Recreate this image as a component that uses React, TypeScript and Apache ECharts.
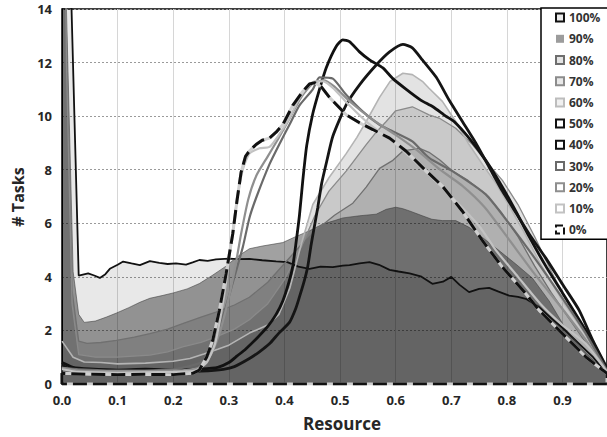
import { useEffect, useRef } from "react";
import * as echarts from "echarts";

const X_MAX = 0.98;
const Y_MAX = 14;
const FONT = "'Open Sans', 'DejaVu Sans', sans-serif";

const legendNames = ["100%", "90%", "80%", "70%", "60%", "50%", "40%", "30%", "20%", "10%", "0%"];

// Area series (filled, semi-transparent)
const share100: number[][] = [
  [0, 30], [0.012, 18], [0.03, 4.05], [0.047, 4.13], [0.058, 4.05], [0.068, 3.96], [0.078, 4.1], [0.086, 4.3],
  [0.1, 4.45], [0.11, 4.57], [0.125, 4.5], [0.14, 4.44], [0.158, 4.59], [0.175, 4.52], [0.19, 4.48], [0.205, 4.5],
  [0.223, 4.46], [0.235, 4.54], [0.247, 4.63], [0.262, 4.6], [0.277, 4.65], [0.3, 4.68], [0.318, 4.66], [0.337, 4.67],
  [0.36, 4.62], [0.385, 4.58], [0.405, 4.55], [0.425, 4.38], [0.445, 4.3], [0.465, 4.38], [0.487, 4.36], [0.505, 4.42],
  [0.517, 4.44], [0.535, 4.5], [0.553, 4.55], [0.57, 4.45], [0.589, 4.26], [0.605, 4.2], [0.625, 4.13], [0.645, 4.02],
  [0.666, 3.74], [0.685, 3.82], [0.7, 4.0], [0.715, 3.7], [0.732, 3.43], [0.75, 3.55], [0.768, 3.59], [0.785, 3.45],
  [0.804, 3.3], [0.82, 3.25], [0.834, 3.18], [0.858, 2.87], [0.88, 2.45], [0.9, 2.1], [0.93, 1.5], [0.955, 1.0], [0.98, 0.38],
];
const share90: number[][] = [
  [0, 30], [0.008, 14], [0.02, 4.2], [0.03, 2.6], [0.04, 2.3], [0.06, 2.35], [0.08, 2.5], [0.098, 2.65], [0.12, 2.85],
  [0.14, 3.05], [0.158, 3.2], [0.18, 3.3], [0.2, 3.4], [0.225, 3.55], [0.247, 3.75], [0.27, 4.05], [0.295, 4.4],
  [0.315, 4.75], [0.337, 5.05], [0.36, 5.15], [0.397, 5.28], [0.42, 5.5], [0.445, 5.72], [0.469, 5.97], [0.49, 6.1],
  [0.505, 6.2], [0.535, 6.28], [0.565, 6.34], [0.583, 6.52], [0.6, 6.6], [0.612, 6.55], [0.625, 6.46], [0.648, 6.28],
  [0.665, 6.15], [0.684, 6.1], [0.708, 6.1], [0.732, 5.85], [0.756, 5.47], [0.786, 4.98], [0.816, 4.48], [0.846, 3.95],
  [0.876, 3.1], [0.906, 2.05], [0.936, 1.3], [0.96, 0.8], [0.98, 0.45],
];
const share80: number[][] = [
  [0, 30], [0.008, 13], [0.018, 3.5], [0.03, 1.6], [0.045, 1.52], [0.07, 1.55], [0.098, 1.63], [0.13, 1.75], [0.158, 1.88],
  [0.19, 2.05], [0.217, 2.25], [0.25, 2.5], [0.277, 2.68], [0.31, 2.95], [0.337, 3.24], [0.37, 3.8], [0.4, 4.5],
  [0.43, 5.2], [0.46, 5.8], [0.49, 6.3], [0.523, 6.75], [0.547, 7.35], [0.571, 8.05], [0.595, 8.35], [0.613, 8.7],
  [0.643, 8.8], [0.66, 8.65], [0.68, 8.35], [0.702, 7.95], [0.73, 7.6], [0.762, 7.08], [0.79, 6.4], [0.82, 5.5],
  [0.85, 4.4], [0.88, 3.4], [0.91, 2.5], [0.94, 1.6], [0.98, 0.45],
];
const share70: number[][] = [
  [0, 30], [0.008, 12], [0.018, 3.0], [0.03, 1.1], [0.06, 1.0], [0.1, 1.0], [0.158, 1.08], [0.19, 1.2], [0.217, 1.39],
  [0.25, 1.55], [0.277, 1.76], [0.31, 2.05], [0.337, 2.4], [0.37, 3.0], [0.4, 3.9], [0.43, 5.1], [0.455, 6.3],
  [0.48, 7.2], [0.511, 7.95], [0.547, 8.94], [0.565, 9.4], [0.583, 9.8], [0.6, 10.2], [0.63, 10.35], [0.66, 10.05],
  [0.678, 9.93], [0.708, 9.55], [0.738, 8.94], [0.762, 8.32], [0.792, 7.6], [0.82, 6.7], [0.85, 5.5], [0.88, 4.2],
  [0.91, 3.0], [0.94, 1.9], [0.98, 0.45],
];
const share60: number[][] = [
  [0, 1.6], [0.02, 1.0], [0.04, 0.82], [0.07, 0.8], [0.1, 0.75], [0.15, 0.78], [0.2, 0.85], [0.23, 0.95], [0.255, 1.12],
  [0.28, 1.3], [0.3, 1.45], [0.337, 1.9], [0.37, 2.2], [0.39, 2.6], [0.41, 3.6], [0.43, 5.2], [0.451, 6.7], [0.48, 7.7],
  [0.511, 8.6], [0.53, 9.2], [0.547, 9.8], [0.571, 10.7], [0.59, 11.3], [0.613, 11.6], [0.63, 11.55], [0.648, 11.3],
  [0.66, 11.04], [0.684, 10.55], [0.708, 9.8], [0.732, 8.94], [0.756, 8.2], [0.78, 7.5], [0.8, 6.8], [0.83, 5.7],
  [0.86, 4.5], [0.9, 3.1], [0.93, 2.2], [0.955, 1.45], [0.98, 0.5],
];

// Line series
const share50: number[][] = [
  [0, 0.8], [0.02, 0.62], [0.05, 0.56], [0.1, 0.52], [0.15, 0.55], [0.2, 0.52], [0.25, 0.56], [0.28, 0.62], [0.3, 0.8],
  [0.315, 1.05], [0.33, 1.3], [0.35, 1.7], [0.37, 2.15], [0.385, 2.6], [0.397, 3.1], [0.408, 3.8], [0.415, 4.4],
  [0.421, 5.3], [0.427, 6.3], [0.433, 7.6], [0.44, 8.9], [0.451, 10.1], [0.463, 11.0], [0.475, 11.8], [0.493, 12.6],
  [0.505, 12.85], [0.517, 12.78], [0.535, 12.4], [0.553, 12.1], [0.577, 11.8], [0.595, 11.4], [0.619, 11.0],
  [0.645, 10.6], [0.667, 10.35], [0.69, 10.0], [0.705, 9.8], [0.732, 9.18], [0.762, 8.35], [0.792, 7.35], [0.816, 6.45],
  [0.84, 5.5], [0.87, 4.4], [0.9, 3.4], [0.93, 2.4], [0.955, 1.55], [0.98, 0.55],
];
const share40: number[][] = [
  [0, 0.7], [0.02, 0.5], [0.05, 0.45], [0.1, 0.42], [0.15, 0.45], [0.2, 0.44], [0.25, 0.48], [0.29, 0.55], [0.31, 0.65],
  [0.337, 0.95], [0.355, 1.2], [0.373, 1.5], [0.39, 1.9], [0.409, 2.3], [0.42, 2.8], [0.427, 3.25], [0.435, 3.8],
  [0.442, 4.4], [0.448, 5.2], [0.454, 5.9], [0.46, 6.6], [0.467, 7.5], [0.477, 8.4], [0.487, 9.25], [0.511, 10.42],
  [0.535, 11.17], [0.565, 11.91], [0.589, 12.4], [0.613, 12.68], [0.63, 12.55], [0.648, 12.1], [0.673, 11.45],
  [0.696, 10.6], [0.72, 9.8], [0.744, 9.0], [0.768, 8.1], [0.792, 7.2], [0.81, 6.6], [0.84, 5.6], [0.87, 4.7],
  [0.9, 3.72], [0.93, 2.75], [0.954, 1.65], [0.98, 0.6],
];
const share30: number[][] = [
  [0, 0.6], [0.03, 0.55], [0.1, 0.5], [0.2, 0.55], [0.25, 0.8], [0.265, 1.2], [0.28, 1.9], [0.295, 2.9], [0.31, 4.0],
  [0.325, 5.1], [0.337, 6.2], [0.35, 7.0], [0.373, 8.2], [0.392, 9.0], [0.409, 9.68], [0.427, 10.4], [0.451, 11.0],
  [0.463, 11.45], [0.487, 11.4], [0.511, 10.8], [0.541, 10.17], [0.571, 9.68], [0.595, 9.43], [0.63, 9.06],
  [0.66, 8.44], [0.702, 7.95], [0.762, 7.08], [0.8, 6.1], [0.85, 4.7], [0.9, 3.2], [0.94, 1.95], [0.98, 0.5],
];
const share20: number[][] = [
  [0, 0.6], [0.03, 0.5], [0.1, 0.48], [0.2, 0.5], [0.245, 0.6], [0.265, 1.0], [0.28, 1.7], [0.295, 2.8], [0.31, 4.2],
  [0.322, 5.6], [0.335, 6.9], [0.35, 7.8], [0.37, 8.5], [0.39, 9.2], [0.409, 9.9], [0.43, 10.7], [0.45, 11.2],
  [0.47, 11.35], [0.49, 11.1], [0.52, 10.5], [0.56, 9.85], [0.6, 9.3], [0.64, 8.7], [0.68, 8.0], [0.72, 7.4],
  [0.76, 6.6], [0.8, 5.5], [0.85, 4.1], [0.9, 2.8], [0.94, 1.7], [0.98, 0.45],
];
const share10: number[][] = [
  [0, 0.55], [0.03, 0.45], [0.1, 0.42], [0.2, 0.45], [0.24, 0.5], [0.26, 0.8], [0.275, 1.5], [0.285, 2.5], [0.295, 3.8],
  [0.305, 5.4], [0.315, 6.9], [0.325, 8.0], [0.337, 8.6], [0.355, 8.8], [0.373, 8.85], [0.39, 9.3], [0.409, 9.93],
  [0.425, 10.6], [0.439, 11.04], [0.455, 11.3], [0.47, 11.3], [0.49, 11.0], [0.51, 10.55], [0.55, 9.75], [0.6, 8.95],
  [0.65, 8.0], [0.7, 7.0], [0.75, 5.9], [0.78, 5.0], [0.82, 4.0], [0.86, 3.0], [0.9, 2.2], [0.942, 1.5], [0.98, 0.45],
];
const share0: number[][] = [
  [0, 0.4], [0.05, 0.36], [0.1, 0.35], [0.15, 0.36], [0.2, 0.35], [0.235, 0.4], [0.247, 0.52], [0.26, 1.0],
  [0.271, 1.63], [0.283, 2.75], [0.295, 4.11], [0.307, 5.6], [0.315, 6.9], [0.322, 7.9], [0.33, 8.5], [0.337, 8.7],
  [0.349, 8.94], [0.36, 9.1], [0.373, 9.18], [0.385, 9.4], [0.397, 9.68], [0.415, 10.4], [0.433, 10.92],
  [0.445, 11.2], [0.455, 11.25], [0.466, 11.1], [0.481, 10.7], [0.495, 10.4], [0.511, 10.05], [0.535, 9.75],
  [0.559, 9.5], [0.589, 9.18], [0.619, 8.69], [0.655, 7.95], [0.684, 7.39], [0.72, 6.45], [0.756, 5.35],
  [0.792, 4.36], [0.834, 3.37], [0.858, 2.75], [0.882, 2.25], [0.912, 1.63], [0.942, 1.01], [0.972, 0.52], [0.98, 0.4],
];

// Outline of the 0% profile, closed along the baseline
const outline0 = [[0, 0], ...share0, [X_MAX, 0], [0, 0]];

type AreaDef = { name: string; data: number[][]; fill: string; edge: string; edgeWidth: number };
const areaDefs: AreaDef[] = [
  { name: "100%", data: share100, fill: "rgba(0,0,0,0.09)", edge: "#111111", edgeWidth: 1.8 },
  { name: "90%", data: share90, fill: "rgba(0,0,0,0.37)", edge: "rgba(60,60,60,0.7)", edgeWidth: 0.8 },
  { name: "80%", data: share80, fill: "rgba(0,0,0,0.12)", edge: "#707070", edgeWidth: 1.3 },
  { name: "70%", data: share70, fill: "rgba(0,0,0,0.115)", edge: "#8a8a8a", edgeWidth: 1.3 },
  { name: "60%", data: share60, fill: "rgba(0,0,0,0.11)", edge: "#b4b4b4", edgeWidth: 1.6 },
];

type LineDef = { name: string; data: number[][]; color: string; width: number };
const lineDefs: LineDef[] = [
  { name: "50%", data: share50, color: "#111111", width: 2.8 },
  { name: "40%", data: share40, color: "#151515", width: 2.8 },
  { name: "30%", data: share30, color: "#6a6a6a", width: 2.2 },
  { name: "20%", data: share20, color: "#8f8f8f", width: 2.2 },
  { name: "10%", data: share10, color: "#c2c2c2", width: 2.2 },
];

const legendStyles: Record<string, any> = {
  "100%": { color: "#ececec", borderColor: "#111", borderWidth: 2 },
  "90%": { color: "#9c9c9c", borderColor: "#9c9c9c", borderWidth: 0 },
  "80%": { color: "#e4e4e4", borderColor: "#6e6e6e", borderWidth: 2 },
  "70%": { color: "#e8e8e8", borderColor: "#8c8c8c", borderWidth: 2 },
  "60%": { color: "#f0f0f0", borderColor: "#bdbdbd", borderWidth: 2 },
  "50%": { color: "#ffffff", borderColor: "#111", borderWidth: 2 },
  "40%": { color: "#ffffff", borderColor: "#111", borderWidth: 2 },
  "30%": { color: "#ffffff", borderColor: "#6a6a6a", borderWidth: 2 },
  "20%": { color: "#ffffff", borderColor: "#8f8f8f", borderWidth: 2 },
  "10%": { color: "#ffffff", borderColor: "#c2c2c2", borderWidth: 2 },
  "0%": { color: "#ffffff", borderColor: "#111", borderWidth: 2, borderType: [7, 3] },
};

export default function App() {
  const ref = useRef<HTMLDivElement>(null);

  useEffect(() => {
    if (!ref.current) return;
    const chart = echarts.init(ref.current, undefined, { renderer: "svg" });

    const series: any[] = [];
    areaDefs.forEach((a) => {
      series.push({
        name: a.name,
        type: "line",
        data: a.data,
        showSymbol: false,
        clip: true,
        itemStyle: { color: a.edge },
        lineStyle: { color: a.edge, width: a.edgeWidth },
        areaStyle: { color: a.fill, opacity: 1 },
      });
    });
    lineDefs.forEach((l) => {
      series.push({
        name: l.name,
        type: "line",
        data: l.data,
        showSymbol: false,
        smooth: 0.2,
        clip: true,
        itemStyle: { color: l.color },
        lineStyle: { color: l.color, width: l.width },
      });
    });
    // 0%: light underlay with black dashes on top
    series.push({
      name: "0%",
      type: "line",
      data: outline0,
      showSymbol: false,
      clip: true,
      itemStyle: { color: "#111" },
      lineStyle: { color: "#cfcfcf", width: 3 },
    });
    series.push({
      name: "0%",
      type: "line",
      data: outline0,
      showSymbol: false,
      clip: true,
      itemStyle: { color: "#111" },
      lineStyle: { color: "#111111", width: 3, type: [14, 6] },
    });

    const axisLabelStyle = {
      fontFamily: FONT,
      fontWeight: "bold" as const,
      fontSize: 13,
      color: "#262626",
    };

    chart.setOption({
      animation: false,
      backgroundColor: "#ffffff",
      grid: {
        left: 62,
        top: 9,
        width: 546,
        height: 375,
        show: true,
        borderColor: "#000000",
        borderWidth: 1.5,
        backgroundColor: "transparent",
      },
      xAxis: {
        type: "value",
        min: 0,
        max: X_MAX,
        interval: 0.1,
        axisLine: { show: true, lineStyle: { color: "#000", width: 1 } },
        axisTick: { show: false },
        axisLabel: {
          ...axisLabelStyle,
          margin: 9,
          showMaxLabel: false,
          formatter: (v: number) => v.toFixed(1),
        },
        splitLine: { show: true, lineStyle: { color: "#d6d6d6", width: 1 } },
      },
      yAxis: {
        type: "value",
        min: 0,
        max: Y_MAX,
        interval: 2,
        axisLine: { show: true, lineStyle: { color: "#000", width: 1 } },
        axisTick: { show: false },
        axisLabel: { ...axisLabelStyle, margin: 10 },
        splitLine: { show: true, lineStyle: { color: "#9a9a9a", width: 1, type: [2, 2] } },
      },
      legend: {
        orient: "vertical",
        left: 541,
        top: 8,
        itemWidth: 8,
        itemHeight: 8,
        itemGap: 8,
        padding: [3, 40, 3, 14],
        backgroundColor: "#ffffff",
        borderColor: "#000000",
        borderWidth: 1.5,
        selectedMode: false,
        textStyle: {
          fontFamily: FONT,
          fontWeight: "bold",
          fontSize: 12,
          lineHeight: 13.2,
          color: "#333333",
        },
        data: legendNames.map((n) => ({ name: n, icon: "rect", itemStyle: legendStyles[n] })),
      },
      graphic: [
        {
          type: "text",
          x: 342,
          y: 423,
          style: {
            text: "Resource",
            font: `bold 17px ${FONT}`,
            fill: "#262626",
            textAlign: "center",
            textVerticalAlign: "middle",
          },
        },
        {
          type: "text",
          x: 18,
          y: 197,
          rotation: Math.PI / 2,
          style: {
            text: "# Tasks",
            font: `bold 16px ${FONT}`,
            fill: "#262626",
            textAlign: "center",
            textVerticalAlign: "middle",
          },
        },
      ],
      series,
    });

    return () => chart.dispose();
  }, []);

  return (
    <div
      ref={ref}
      style={{ position: "fixed", left: 0, top: 0, width: 607, height: 437, background: "#fff" }}
    />
  );
}
